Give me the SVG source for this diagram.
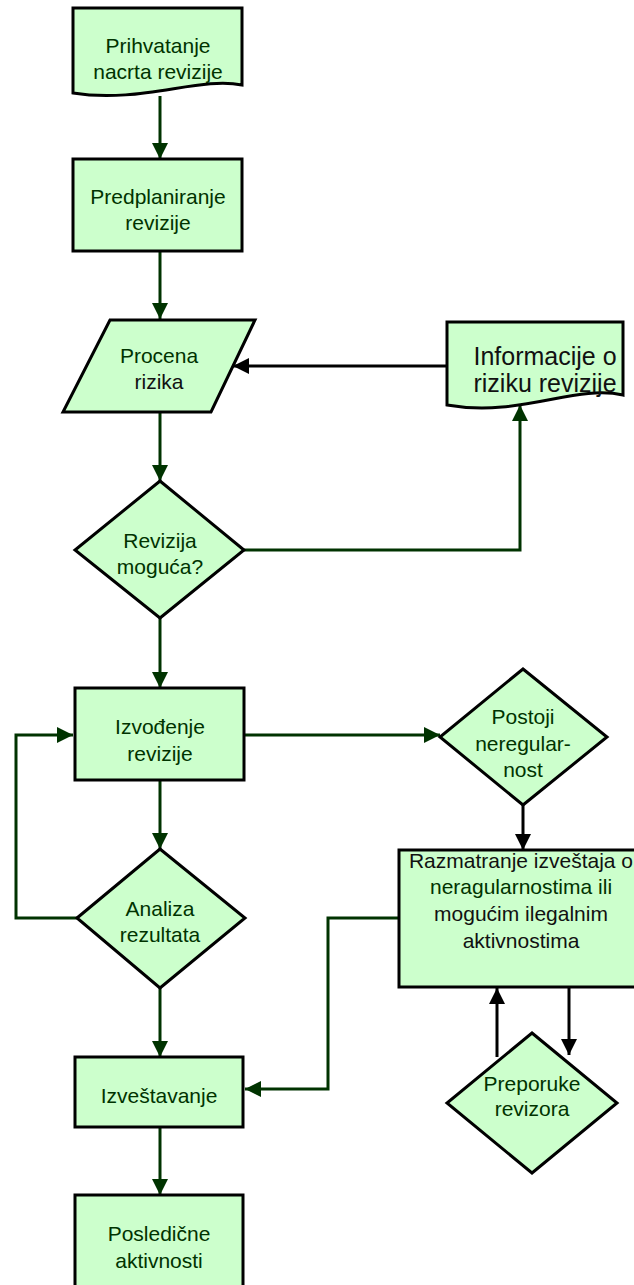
<svg xmlns="http://www.w3.org/2000/svg" width="634" height="1285" viewBox="0 0 634 1285">
<style>
.shape{fill:#CCFFCC;stroke:#000;stroke-width:3;stroke-linejoin:miter}
.t{font-family:"Liberation Sans",Arial,sans-serif;font-size:21px;fill:#003300;text-anchor:middle}
.big{font-size:25px}
.k{fill:#111}
.cg{fill:none;stroke:#003300;stroke-width:3;marker-end:url(#ag)}
.cb{fill:none;stroke:#000;stroke-width:3;marker-end:url(#ab)}
</style>
<defs>
<marker id="ag" markerUnits="userSpaceOnUse" markerWidth="16" markerHeight="16" refX="16" refY="8" orient="auto">
<path d="M0,0 L16,8 L0,16 z" fill="#003300"/>
</marker>
<marker id="ab" markerUnits="userSpaceOnUse" markerWidth="16" markerHeight="16" refX="16" refY="8" orient="auto">
<path d="M0,0 L16,8 L0,16 z" fill="#000"/>
</marker>
</defs>
<rect width="634" height="1285" fill="#fff"/>
<g id="connectors">
<path class="cg" d="M160,96 V159"/>
<path class="cg" d="M160,251 V319"/>
<path class="cb" d="M447,366 H233"/>
<path class="cg" d="M160,412 V481"/>
<path class="cg" d="M244,550 H520 V405"/>
<path class="cg" d="M160,618 V688"/>
<path class="cg" d="M244,735 H440"/>
<path class="cb" d="M523,805 V850"/>
<path class="cg" d="M160,780 V849"/>
<path class="cg" d="M77,918 H16 V735 H73"/>
<path class="cg" d="M160,988 V1057"/>
<path class="cg" d="M399,918 H328 V1089 H245"/>
<path class="cb" d="M497,1057 V988"/>
<path class="cb" d="M569,988 V1055"/>
<path class="cg" d="M160,1127 V1195"/>
</g>
<g id="n1">
<path class="shape" d="M73,8 H242 V85 C200,76 140,104 73,93 Z"/>
<text class="t" x="158" y="53">Prihvatanje</text>
<text class="t" x="158" y="79">nacrta revizije</text>
</g>
<g id="n2">
<rect class="shape" x="73" y="159" width="169" height="92"/>
<text class="t" x="158" y="204">Predplaniranje</text>
<text class="t" x="158" y="230">revizije</text>
</g>
<g id="n3">
<path class="shape" d="M110,320 H255 L211,412 H63 Z"/>
<text class="t" x="159" y="363">Procena</text>
<text class="t k" x="159" y="389">rizika</text>
</g>
<g id="n4">
<path class="shape" d="M447,322 H623 V395 C575,384 520,418 447,405 Z"/>
<text class="t big k" x="545" y="365">Informacije o</text>
<text class="t big k" x="545" y="392">riziku revizije</text>
</g>
<g id="n5">
<path class="shape" d="M160,481 L244,550 L160,618 L75,550 Z"/>
<text class="t" x="160" y="548">Revizija</text>
<text class="t" x="160" y="574">moguća?</text>
</g>
<g id="n6">
<rect class="shape" x="75" y="688" width="169" height="92"/>
<text class="t" x="160" y="734">Izvođenje</text>
<text class="t" x="160" y="761">revizije</text>
</g>
<g id="n7">
<path class="shape" d="M523,669 L607,737 L523,805 L440,737 Z"/>
<text class="t" x="523" y="724">Postoji</text>
<text class="t" x="523" y="751">neregular-</text>
<text class="t" x="523" y="777">nost</text>
</g>
<g id="n8">
<path class="shape" d="M77,918 L160,849 L245,918 L160,988 Z"/>
<text class="t" x="160" y="916">Analiza</text>
<text class="t" x="160" y="942">rezultata</text>
</g>
<g id="n9">
<rect class="shape" x="399" y="850" width="245" height="137"/>
<text class="t k" x="521" y="868">Razmatranje izveštaja o</text>
<text class="t" x="521" y="894">neragularnostima ili</text>
<text class="t k" x="521" y="921">mogućim ilegalnim</text>
<text class="t k" x="521" y="948">aktivnostima</text>
</g>
<g id="n10">
<path class="shape" d="M532,1033 L617,1103 L532,1173 L447,1103 Z"/>
<text class="t" x="532" y="1091">Preporuke</text>
<text class="t" x="532" y="1116">revizora</text>
</g>
<g id="n11">
<rect class="shape" x="75" y="1057" width="168" height="70"/>
<text class="t" x="159" y="1103">Izveštavanje</text>
</g>
<g id="n12">
<rect class="shape" x="75" y="1195" width="168" height="100"/>
<text class="t" x="159" y="1241">Posledične</text>
<text class="t" x="159" y="1268">aktivnosti</text>
</g>
</svg>
